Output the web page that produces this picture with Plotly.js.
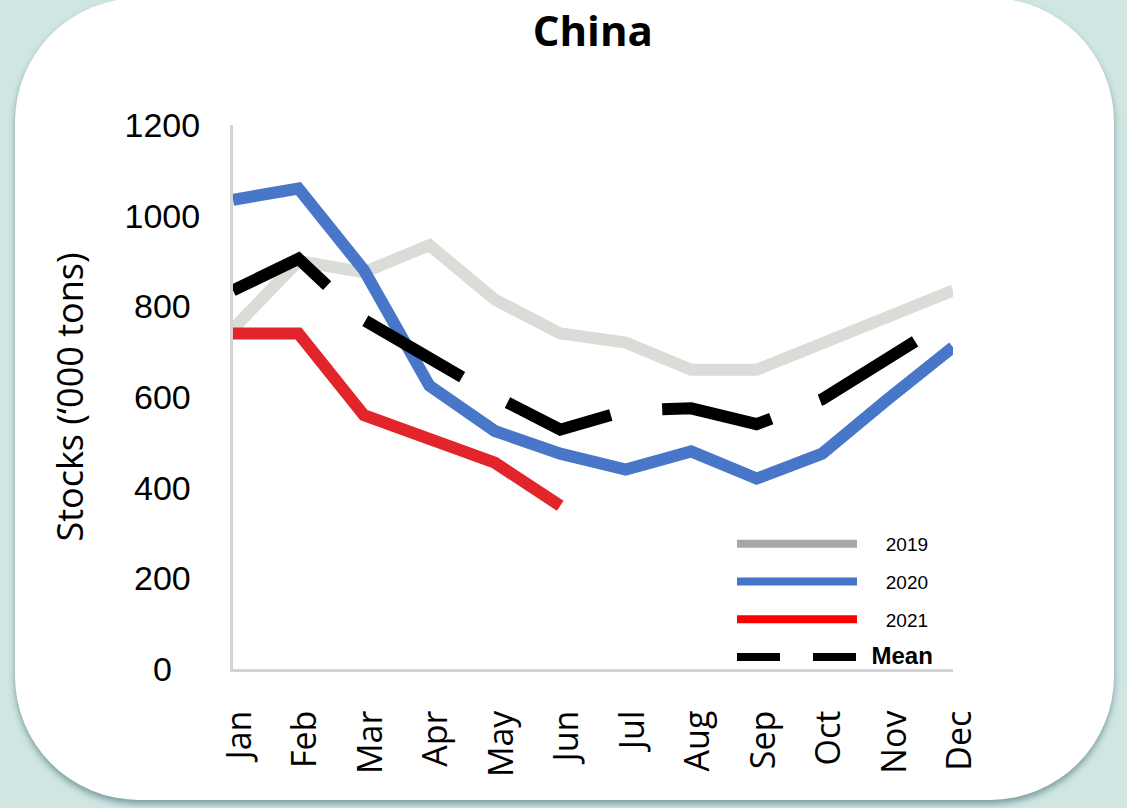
<!DOCTYPE html>
<html>
<head>
<meta charset="utf-8">
<script src="https://cdn.plot.ly/plotly-3.0.1.min.js"></script>
<style>
html,body{margin:0;padding:0;width:1127px;height:808px;overflow:hidden;background:#cfe6e3;}
#card{position:absolute;left:15px;top:-2px;width:1099px;height:802px;background:#ffffff;border-radius:124px;box-shadow:0 4px 6px rgba(70,110,108,0.6);}
#chart{position:absolute;left:0;top:0;width:1127px;height:808px;}
</style>
</head>
<body>
<div id="card"></div>
<div id="chart"></div>
<script>
// Categories
const months = ['Jan','Feb','Mar','Apr','May','Jun','Jul','Aug','Sep','Oct','Nov','Dec'];
// Series values ('000 tons)
const stocks2019 = [750, 900, 875, 935, 815, 740, 720, 660, 660, 720, 780, 835];
const stocks2020 = [1035, 1060, 880, 625, 525, 475, 440, 480, 420, 475, 595, 710];
const stocks2021 = [740, 740, 560, 505, 455, 360];
const stocksMean = [835, 905, 770, 686, 602, 528, 570, 575, 540, 595, 688, 775];
// Y tick labels
const yTickVals = [0, 200, 400, 600, 800, 1000, 1200];
const yTickText = ['0\u2007\u2008', '200\u2008', '400\u2008', '600\u2008', '800\u2008', '1000', '1200'];
// Legend labels
const legendNames = ['2019', '2020', '2021', 'Mean'];

const pad = '\u2003\u2005';
const lineW = 12;
const traces = [
  {x: months, y: stocks2019, type: 'scatter', mode: 'lines', line: {color: '#dadcd7', width: lineW}, showlegend: false, hoverinfo: 'skip'},
  {x: months, y: stocks2020, type: 'scatter', mode: 'lines', line: {color: '#4876c8', width: lineW}, showlegend: false, hoverinfo: 'skip'},
  {x: months.slice(0, stocks2021.length), y: stocks2021, type: 'scatter', mode: 'lines', line: {color: '#e2242b', width: lineW}, showlegend: false, hoverinfo: 'skip'},
  {x: months, y: stocksMean, type: 'scatter', mode: 'lines', line: {color: '#000000', width: lineW, dash: '112px,52px'}, showlegend: false, hoverinfo: 'skip'},
  // legend entries
  {x: [null], y: [null], type: 'scatter', mode: 'lines', name: pad + legendNames[0], legendgroup: 'a', line: {color: '#a6a6a6', width: 8}},
  {x: [null], y: [null], type: 'scatter', mode: 'lines', name: pad + legendNames[1], legendgroup: 'b', line: {color: '#4674c9', width: 8}},
  {x: [null], y: [null], type: 'scatter', mode: 'lines', name: pad + legendNames[2], legendgroup: 'c', line: {color: '#ff0000', width: 8}},
  {x: [null], y: [null], type: 'scatter', mode: 'lines', name: '\u2002<b><span style="font-size:24px">' + legendNames[3] + '</span></b>', legendgroup: 'd', line: {color: '#000000', width: 8, dash: '43px,33px'}}
];

const layout = {
  width: 1127, height: 808,
  paper_bgcolor: 'rgba(0,0,0,0)',
  plot_bgcolor: 'rgba(0,0,0,0)',
  margin: {l: 233, r: 174, t: 125, b: 139},
  title: {text: 'China', font: {family: 'Open Sans', size: 42, color: '#000', weight: 700},
          x: 0.526, xref: 'container', xanchor: 'center', y: 1 - 31/808, yref: 'container', yanchor: 'middle'},
  xaxis: {
    type: 'category', categoryorder: 'array', categoryarray: months,
    range: [0, 11], showgrid: false, zeroline: false,
    showline: true, linecolor: '#d3d3d3', linewidth: 3,
    ticks: '', tickangle: -90, ticklabelstandoff: 25, ticklabelshift: 7,
    tickfont: {family: 'Open Sans', size: 34, color: '#000'}
  },
  yaxis: {
    range: [0, 1200], showgrid: false, zeroline: false,
    showline: true, linecolor: '#d3d3d3', linewidth: 3,
    ticks: '', tickmode: 'array', tickvals: yTickVals, ticktext: yTickText,
    ticklabelstandoff: 23,
    tickfont: {family: 'Liberation Sans', size: 34, color: '#000'},
    title: {text: 'Stocks (\u2018000 tons)', standoff: 30, font: {family: 'Open Sans', size: 36, color: '#000'}}
  },
  showlegend: true,
  legend: {
    xref: 'paper', yref: 'paper', x: (732 - 233) / 720, y: (669 - 525) / 544, xanchor: 'left', yanchor: 'top',
    bgcolor: 'rgba(0,0,0,0)', borderwidth: 0, itemwidth: 120, tracegroupgap: 10,
    traceorder: 'grouped',
    font: {family: 'Liberation Sans', size: 19, color: '#000'}
  }
};

Plotly.newPlot('chart', traces, layout, {displayModeBar: false, staticPlot: true});
</script>
</body>
</html>
